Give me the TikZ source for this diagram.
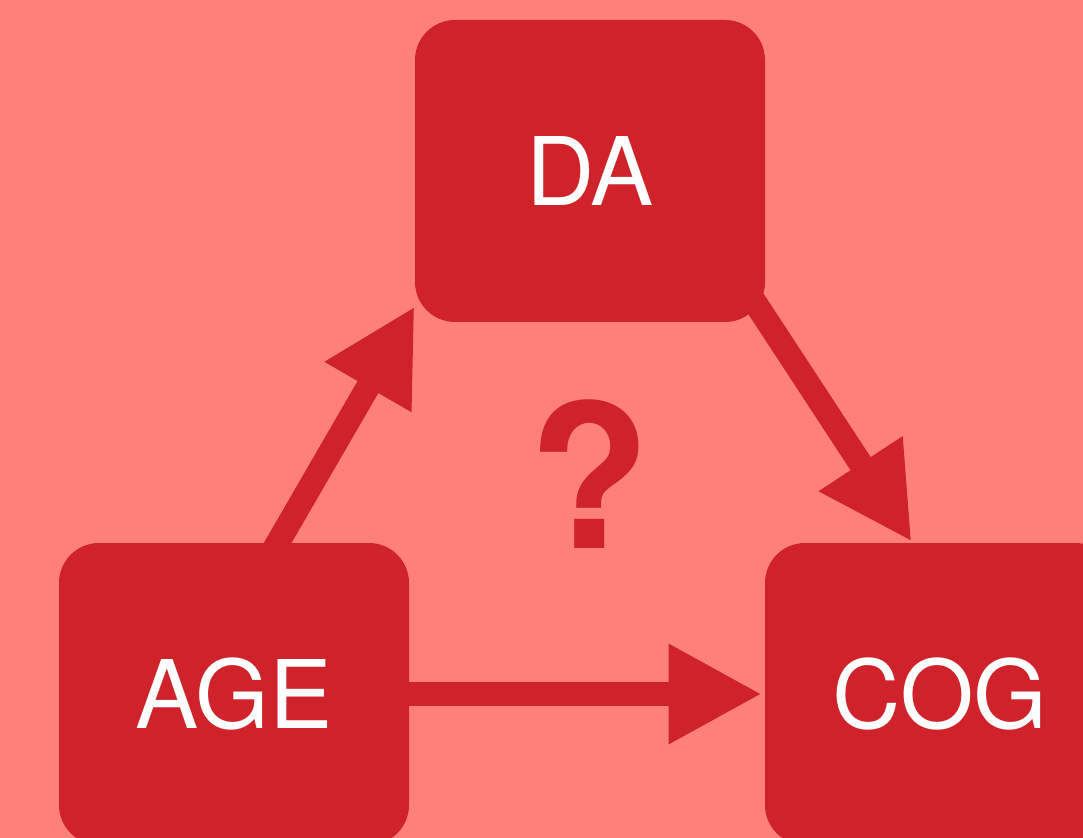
\documentclass[tikz,border=0pt]{standalone}
\usepackage{fontspec}
\setmainfont{TeX Gyre Heros}
\usetikzlibrary{arrows.meta}
\definecolor{salmon}{RGB}{255,128,120}
\definecolor{boxred}{RGB}{207,34,43}

\begin{document}
\begin{tikzpicture}[x=0.75pt,y=-0.75pt,
  block/.style={fill=boxred,text=white,rounded corners=30pt,minimum width=262.5pt,minimum height=226.5pt,inner sep=0pt,font=\fontsize{71}{75}\selectfont},
  arr/.style={-{Triangle[length=70pt,width=70pt]},boxred,line width=18pt}
]
\clip (0,0) rectangle (1083,838);
\fill[salmon] (0,0) rectangle (1083,838);
\node[block] (da) at (590,171) {DA};
\node[block] (age) at (234,694) {AGE};
\node[block] (cog) at (940,694) {COG};
\node[text=boxred,font=\fontsize{150}{150}\selectfont\bfseries,anchor=base] (qm) at (590,548) {?};
\draw[arr] (age.east) -- ([xshift=-2pt]cog.west);
\draw[arr] ([shift={(38,10)}]age.north) -- ([shift={(0,-16)}]da.south west);
\draw[arr] ([shift={(-13,-24)}]da.south east) -- ([shift={(147,-1)}]cog.north west);
\end{tikzpicture}
\end{document}
